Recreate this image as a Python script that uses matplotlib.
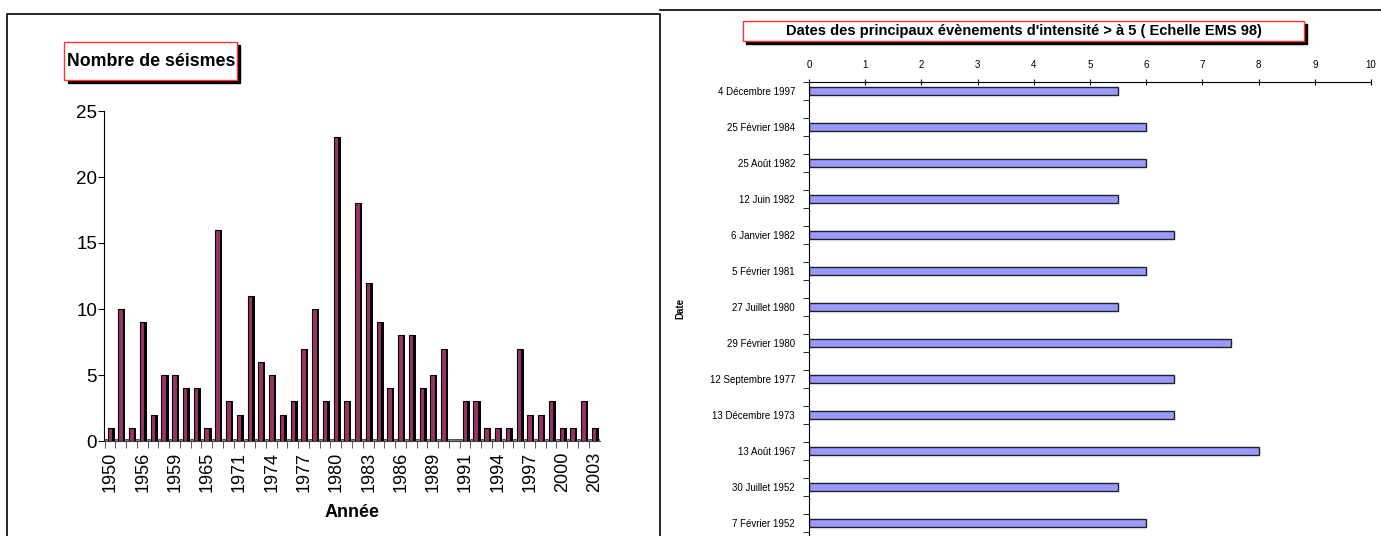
import numpy as np
import matplotlib.pyplot as plt
from matplotlib.lines import Line2D
from matplotlib.patches import Rectangle

plt.rcParams['font.family'] = ['Liberation Sans', 'DejaVu Sans']

# Nombre de séismes par catégorie (46 catégories, une étiquette sur trois)
nb_seismes = [1, 10, 1, 9, 2, 5, 5, 4, 4, 1, 16, 3, 2, 11, 6, 5, 2, 3, 7, 10,
              3, 23, 3, 18, 12, 9, 4, 8, 8, 4, 5, 7, 0, 3, 3, 1, 1, 1, 7, 2,
              2, 3, 1, 1, 3, 1]
annees_affichees = ['1950', '1956', '1959', '1965', '1971', '1974', '1977', '1980',
                    '1983', '1986', '1989', '1991', '1994', '1997', '2000', '2003']

# Principaux évènements d'intensité > 5
dates = ['4 Décembre 1997', '25 Février 1984', '25 Août 1982', '12 Juin 1982',
         '6 Janvier 1982', '5 Février 1981', '27 Juillet 1980', '29 Février 1980',
         '12 Septembre 1977', '13 Décembre 1973', '13 Août 1967', '30 Juillet 1952',
         '7 Février 1952']
intensites = [5.5, 6, 6, 5.5, 6.5, 6, 5.5, 7.5, 6.5, 6.5, 8, 5.5, 6]

W, H = 1381, 536
fig = plt.figure(figsize=(W / 100, H / 100), dpi=100)

def fx(px):
    return px / W

def fy(py):
    return 1 - py / H

# cadres des deux graphiques
fig.add_artist(Line2D([fx(7), fx(7), fx(660), fx(660)], [0, fy(14), fy(14), 0], color='black', lw=1.2))
fig.add_artist(Line2D([fx(660), 1], [fy(10), fy(10)], color='black', lw=1.2))

# ---------- graphique de gauche ----------
ax1 = fig.add_axes([fx(104), fy(441), fx(600) - fx(104), fy(111) - fy(441)])
x = np.arange(len(nb_seismes))
# face latérale sombre (effet 3D) puis face avant
ax1.bar(x + 0.12, nb_seismes, width=0.55, color='black', zorder=2)
ax1.bar(x - 0.05, nb_seismes, width=0.42, color='#993366', edgecolor='black', linewidth=0.8, zorder=3)
ax1.add_patch(Rectangle((-0.6, 0), 46.1, 0.18, facecolor='#808080', edgecolor='#404040', lw=0.6, zorder=1))
ax1.set_xlim(-0.6, 45.5)
ax1.set_ylim(0, 25)
ax1.set_yticks([0, 5, 10, 15, 20, 25])
ax1.set_xticks(x[::3])
ax1.set_xticklabels(annees_affichees, rotation=90, fontsize=13)
ax1.set_xticks(x - 0.55, minor=True)
ax1.tick_params(axis='x', which='major', length=0, pad=8)
ax1.tick_params(axis='x', which='minor', length=5, color='#404040')
ax1.tick_params(axis='y', labelsize=13.5, length=4, pad=1)
for s in ['top', 'right']:
    ax1.spines[s].set_visible(False)
ax1.spines['bottom'].set_color('#404040')
ax1.set_xlabel('Année', fontsize=13, fontweight='bold', labelpad=8)

# titre encadré
fig.text(fx(151), fy(61), 'Nombre de séismes', fontsize=12.8, fontweight='bold',
         ha='center', va='center')
fig.add_artist(Rectangle((fx(68), fy(83)), fx(240) - fx(68), fy(45) - fy(83), transform=fig.transFigure,
                         facecolor='black', edgecolor='black', zorder=-2))
fig.add_artist(Rectangle((fx(64), fy(80)), fx(237) - fx(64), fy(42) - fy(80), transform=fig.transFigure,
                         facecolor='white', edgecolor='#ff3333', lw=1, zorder=-1))

# ---------- graphique de droite ----------
ax2 = fig.add_axes([fx(809), 0, fx(1371) - fx(809), fy(82)])
y = np.arange(len(dates))
ax2.barh(y, intensites, height=0.2, color='#9999FF', edgecolor='#222222', linewidth=1)
ax2.set_xlim(0, 10)
ax2.set_ylim(12 + 13 / 36, -0.25)
ax2.xaxis.tick_top()
ax2.set_xticks(range(11))
ax2.tick_params(axis='x', labelsize=7, direction='inout', length=5, pad=6)
ax2.set_yticks(y)
ax2.set_yticklabels(dates, fontsize=7)
ax2.set_yticks(np.arange(-0.25, 12.5, 0.5), minor=True)
ax2.tick_params(axis='y', which='major', length=0, pad=10)
ax2.tick_params(axis='y', which='minor', length=4)
for s in ['bottom', 'right']:
    ax2.spines[s].set_visible(False)
ax2.set_ylabel('Date', fontsize=7, fontweight='bold')
ax2.yaxis.set_label_coords((685 - 809) / (1371 - 809), (536 - 308) / (536 - 82))

fig.text(fx(1024), fy(31), "Dates des principaux évènements d'intensité > à 5 ( Echelle EMS 98)",
         fontsize=10.5, fontweight='bold', ha='center', va='center')
fig.add_artist(Rectangle((fx(746), fy(44)), fx(1307) - fx(746), fy(24) - fy(44), transform=fig.transFigure,
                         facecolor='black', edgecolor='black', zorder=-2))
fig.add_artist(Rectangle((fx(743), fy(41)), fx(1304) - fx(743), fy(21) - fy(41), transform=fig.transFigure,
                         facecolor='white', edgecolor='#ff3333', lw=1, zorder=-1))

fig.savefig('out.png', dpi=100)
